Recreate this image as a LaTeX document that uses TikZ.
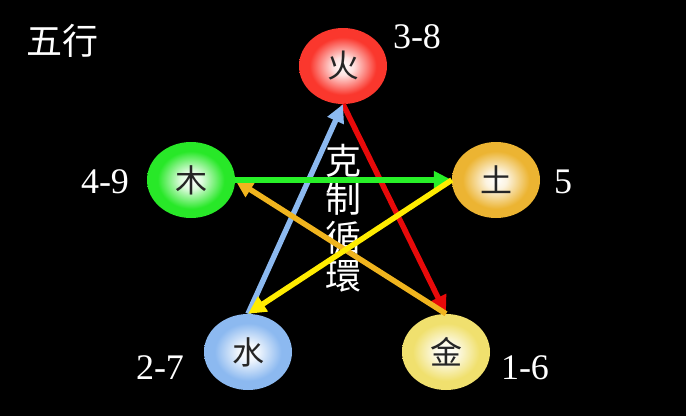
\documentclass[tikz,border=0pt]{standalone}
\usepackage{fontspec}
\setmainfont{Liberation Serif}
\newfontfamily\cjk{Noto Sans CJK TC}
\usetikzlibrary{shapes.geometric,arrows.meta}

\definecolor{firec}{RGB}{250,55,45}
\definecolor{woodc}{RGB}{40,232,40}
\definecolor{earthc}{RGB}{236,180,50}
\definecolor{waterc}{RGB}{140,185,240}
\definecolor{metalc}{RGB}{240,224,110}
\definecolor{redline}{RGB}{232,10,10}
\definecolor{blueline}{RGB}{140,185,240}
\definecolor{greenline}{RGB}{40,240,40}
\definecolor{yellowline}{RGB}{255,236,0}
\definecolor{orangeline}{RGB}{240,180,30}
\colorlet{ballc}{white}
\pgfdeclareradialshading[ballc]{glow}{\pgfpoint{0bp}{0bp}}{color(0bp)=(white);
  color(6bp)=(white!85!ballc); color(19bp)=(ballc); color(50bp)=(ballc)}

\begin{document}
\begin{tikzpicture}[x=1pt,y=-1pt,
    elem/.style={ellipse,minimum width=88pt,minimum height=76pt,inner sep=0pt,
      /utils/exec={\colorlet{ballc}{#1}},shade,shading=glow,text=black!85,
      font=\cjk\fontsize{32}{32}\selectfont},
    num/.style={text=white,font=\fontsize{36}{36}\selectfont},
    title/.style={text=white,align=center,font=\cjk\fontsize{36}{38.5}\selectfont},
    link/.style={line width=5.5pt,-{Triangle[length=18pt,width=17pt]}}]
  \fill[black] (0,0) rectangle (686,416);

  \node[title] (wuxing) at (63,41) {五行};
  \node[title] (cycle) at (343,218) {克\\制\\循\\環};

  \node[elem=firec] (fire) at (343,66) {火};
  \node[elem=woodc] (wood) at (191,180) {木};
  \node[elem=earthc] (earth) at (496,180) {土};
  \node[elem=waterc] (water) at (248,352) {水};
  \node[elem=metalc] (metal) at (446,352) {金};

  \node[num] (n38) at (417,37) {3-8};
  \node[num] (n49) at (105,182) {4-9};
  \node[num] (n5) at (563,182) {5};
  \node[num] (n27) at (160,368) {2-7};
  \node[num] (n16) at (525,368) {1-6};

  \draw[link,draw=redline,fill=redline] (fire.south)--(metal.north);
  \draw[link,draw=blueline,fill=blueline] (water.north)--(fire.south);
  \draw[link,draw=orangeline,fill=orangeline] (metal.north)--(wood.east);
  \draw[link,draw=greenline,fill=greenline] (wood.east)--(earth.west);
  \draw[link,draw=yellowline,fill=yellowline] (earth.west)--(water.north);
\end{tikzpicture}
\end{document}
